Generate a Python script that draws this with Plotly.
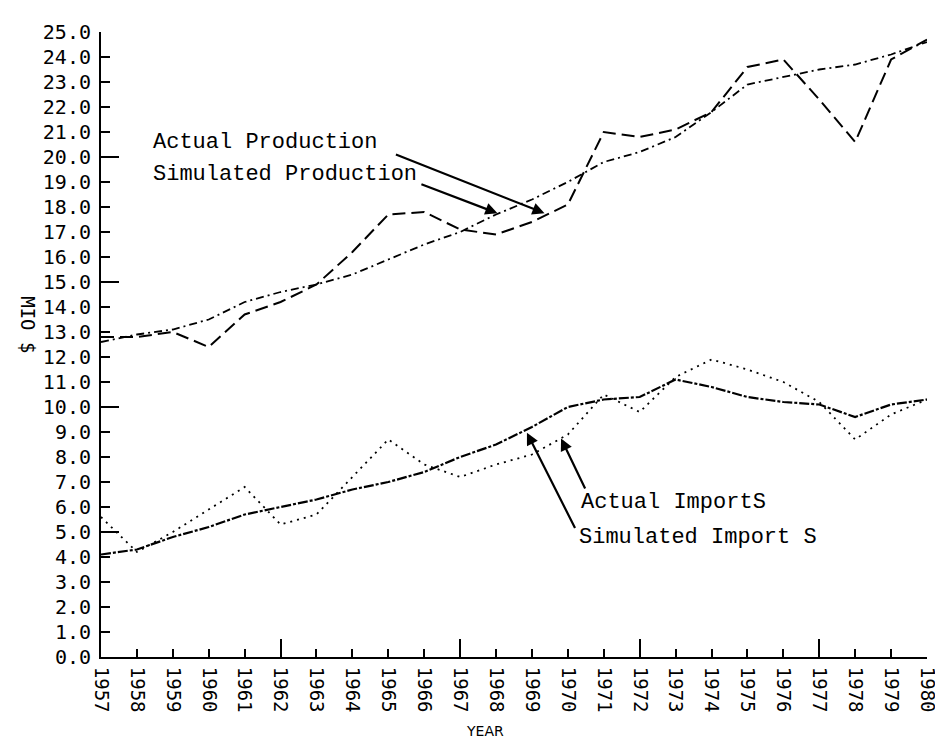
import plotly.graph_objects as go

years = list(range(1957, 1981))

actual_production = [12.8, 12.8, 13.0, 12.4, 13.7, 14.2, 14.9, 16.2, 17.7, 17.8, 17.1, 16.9,
                     17.4, 18.1, 21.0, 20.8, 21.1, 21.8, 23.6, 23.9, 22.3, 20.6, 23.9, 24.7]
simulated_production = [12.6, 12.9, 13.1, 13.5, 14.2, 14.6, 14.9, 15.3, 15.9, 16.5, 17.0, 17.7,
                        18.3, 19.0, 19.8, 20.2, 20.8, 21.8, 22.9, 23.2, 23.5, 23.7, 24.1, 24.6]
actual_imports = [5.6, 4.2, 5.0, 5.9, 6.8, 5.3, 5.7, 7.2, 8.7, 7.7, 7.2, 7.7,
                  8.1, 8.9, 10.5, 9.8, 11.2, 11.9, 11.5, 11.0, 10.2, 8.7, 9.7, 10.3]
simulated_imports = [4.1, 4.3, 4.8, 5.2, 5.7, 6.0, 6.3, 6.7, 7.0, 7.4, 8.0, 8.5,
                     9.2, 10.0, 10.3, 10.4, 11.1, 10.8, 10.4, 10.2, 10.1, 9.6, 10.1, 10.3]

y_ticks = [i * 1.0 for i in range(0, 26)]
y_major = [0, 5, 10, 15, 20, 25]
x_major = [1962, 1967, 1972, 1977]

YFONT = dict(family="DejaVu Sans Mono", size=20, color="black")
XFONT = dict(family="DejaVu Sans Mono", size=19, color="black")
TXTFONT = dict(family="Liberation Mono", size=22, color="black")

fig = go.Figure()
fig.add_trace(go.Scatter(x=years, y=actual_production, mode="lines", xaxis="x2", yaxis="y",
                         line=dict(color="black", width=2, dash="13px,6px")))
fig.add_trace(go.Scatter(x=years, y=simulated_production, mode="lines", xaxis="x", yaxis="y2",
                         line=dict(color="black", width=1.8, dash="8px,4px,2px,4px")))
fig.add_trace(go.Scatter(x=years, y=actual_imports, mode="lines",
                         line=dict(color="black", width=1.8, dash="2px,5px")))
fig.add_trace(go.Scatter(x=years, y=simulated_imports, mode="lines",
                         line=dict(color="black", width=2.2, dash="10px,2px,3px,2px")))

fig.update_layout(
    width=943, height=740,
    margin=dict(l=93, r=13, t=16, b=91),
    paper_bgcolor="white", plot_bgcolor="white",
    showlegend=False,
    xaxis=dict(range=[1957, 1980], tickvals=years, ticktext=[str(y) for y in years],
               ticks="inside", ticklen=8, tickwidth=1.5, tickcolor="black",
               showline=True, linewidth=2, linecolor="black",
               tickangle=90, tickfont=XFONT, ticklabelstandoff=4,
               ticklabeloverflow="allow",
               showgrid=False, zeroline=False),
    xaxis2=dict(range=[1957, 1980], overlaying="x", anchor="y", side="bottom",
                tickvals=x_major, ticks="inside", ticklen=18, tickwidth=1.5, tickcolor="black",
                showticklabels=False, showline=False, showgrid=False, zeroline=False),
    yaxis=dict(range=[0, 25], tickvals=y_ticks, tickformat=".1f",
               ticks="inside", ticklen=9, tickwidth=1.5, tickcolor="black",
               showline=True, linewidth=2, linecolor="black",
               tickfont=YFONT, ticklabelstandoff=4,
               ticklabeloverflow="allow",
               showgrid=False, zeroline=False),
    yaxis2=dict(range=[0, 25], overlaying="y", anchor="x", side="left",
                tickvals=y_major, ticks="inside", ticklen=18, tickwidth=1.5, tickcolor="black",
                showticklabels=False, showline=False, showgrid=False, zeroline=False),
)

# Text labels
labels = [
    ("Actual Production", 1958.4, 20.6),
    ("Simulated Production", 1958.4, 19.3),
    ("Actual ImportS", 1970.3, 6.17),
    ("Simulated Import S", 1970.25, 4.78),
]
for txt, lx, ly in labels:
    fig.add_annotation(x=lx, y=ly, xref="x", yref="y", text=txt, showarrow=False,
                       xanchor="left", yanchor="middle", font=TXTFONT)

# Arrows: (head_x, head_y, tail_x, tail_y)
arrows = [
    (1969.35, 17.75, 1965.17, 20.12),
    (1968.04, 17.75, 1965.88, 18.93),
    (1969.81, 8.74, 1970.50, 6.68),
    (1968.86, 8.97, 1970.22, 5.10),
]
for hx, hy, tx, ty in arrows:
    fig.add_annotation(x=hx, y=hy, ax=tx, ay=ty, xref="x", yref="y", axref="x", ayref="y",
                       text="", showarrow=True, arrowhead=2, arrowsize=1.1, arrowwidth=2.2,
                       arrowcolor="black")

# Axis titles
fig.add_annotation(x=1967.7, y=0, xref="x", yref="paper", yshift=-74, text="YEAR",
                   showarrow=False, font=dict(family="DejaVu Sans", size=14, color="black"),
                   xanchor="center", yanchor="middle")
fig.add_annotation(x=-0.088, y=0.532, xref="paper", yref="paper", text="MIO $", textangle=90,
                   showarrow=False, font=dict(family="DejaVu Sans Mono", size=19, color="black"),
                   xanchor="center", yanchor="middle")

fig.write_html("out.html")
